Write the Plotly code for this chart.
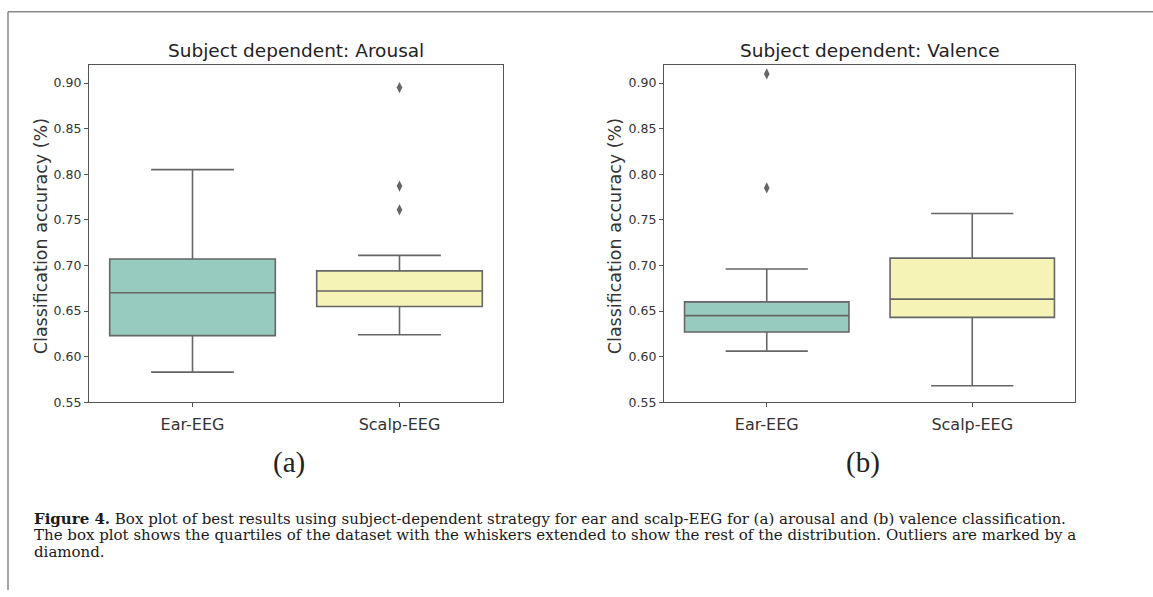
import plotly.graph_objects as go

W, H = 1153, 597

categories = ["Ear-EEG", "Scalp-EEG"]

# Panel (a): Arousal
a_q1 = [0.623, 0.655]
a_median = [0.670, 0.672]
a_q3 = [0.707, 0.694]
a_low = [0.583, 0.624]
a_high = [0.805, 0.711]
a_out_x = ["Scalp-EEG", "Scalp-EEG", "Scalp-EEG"]
a_out_y = [0.895, 0.787, 0.761]

# Panel (b): Valence
b_q1 = [0.627, 0.643]
b_median = [0.645, 0.663]
b_q3 = [0.660, 0.708]
b_low = [0.606, 0.568]
b_high = [0.696, 0.757]
b_out_x = ["Ear-EEG", "Ear-EEG"]
b_out_y = [0.910, 0.785]

colors = ["#97cbbf", "#f5f3b5"]
yticks = [0.55, 0.60, 0.65, 0.70, 0.75, 0.80, 0.85, 0.90]

LINE = "#666666"

fig = go.Figure()

def add_panel(xa, ya, q1, med, q3, lo, hi, ox, oy):
    for i, c in enumerate(categories):
        fig.add_trace(go.Box(
            x=[c], q1=[q1[i]], median=[med[i]], q3=[q3[i]],
            lowerfence=[lo[i]], upperfence=[hi[i]],
            boxpoints=False, fillcolor=colors[i],
            line=dict(color=LINE, width=1.6),
            width=0.8, whiskerwidth=0.5,
            xaxis=xa, yaxis=ya, showlegend=False, hoverinfo="skip"))
    fig.add_trace(go.Scatter(
        x=ox, y=oy, mode="markers",
        marker=dict(symbol="diamond-tall", size=8, color=LINE),
        xaxis=xa, yaxis=ya, showlegend=False, hoverinfo="skip"))

add_panel("x", "y", a_q1, a_median, a_q3, a_low, a_high, a_out_x, a_out_y)
add_panel("x2", "y2", b_q1, b_median, b_q3, b_low, b_high, b_out_x, b_out_y)

ydom = [1 - 407 / H, 1 - 66 / H]
xdom_a = [89 / W, 503 / W]
xdom_b = [664 / W, 1075 / W]

axis_common_x = dict(
    type="category", categoryorder="array", categoryarray=categories,
    range=[-0.5, 1.5], showline=True, linecolor="#555555", linewidth=1.3,
    mirror=True, ticks="outside", ticklen=4, tickcolor="#555555",
    ticklabelstandoff=3,
    tickfont=dict(family="DejaVu Sans", size=16, color="#333333"),
    showgrid=False, zeroline=False, fixedrange=True)
axis_common_y = dict(
    range=[0.55, 0.9195], showline=True, linecolor="#555555", linewidth=1.3,
    mirror=True, ticks="outside", ticklen=4, tickcolor="#555555",
    tickvals=yticks, ticktext=[f"{v:.2f}" for v in yticks],
    tickfont=dict(family="DejaVu Sans", size=12.5, color="#333333"),
    showgrid=False, zeroline=False, fixedrange=True)

fig.update_layout(
    width=W, height=H,
    margin=dict(l=0, r=0, t=0, b=0),
    paper_bgcolor="white", plot_bgcolor="white",
    xaxis=dict(domain=xdom_a, anchor="y", **axis_common_x),
    yaxis=dict(domain=ydom, anchor="x", **axis_common_y),
    xaxis2=dict(domain=xdom_b, anchor="y2", **axis_common_x),
    yaxis2=dict(domain=ydom, anchor="x2", **axis_common_y),
    boxgap=0, boxgroupgap=0,
)

ann = []
# titles
for dom, t in [(xdom_a, "Subject dependent: Arousal"), (xdom_b, "Subject dependent: Valence")]:
    ann.append(dict(x=(dom[0] + dom[1]) / 2, y=1 - 51 / H, xref="paper", yref="paper",
                    text=t, showarrow=False, xanchor="center", yanchor="middle",
                    font=dict(family="DejaVu Sans", size=18.5, color="#222222")))
# y labels
for xp in [41, 615]:
    ann.append(dict(x=xp / W, y=1 - 239 / H, xref="paper", yref="paper",
                    text="Classification accuracy (%)", showarrow=False, textangle=-90,
                    xanchor="center", yanchor="middle",
                    font=dict(family="DejaVu Sans", size=17.5, color="#333333")))
# panel letters
for xp, t in [(289, "(a)"), (863, "(b)")]:
    ann.append(dict(x=xp / W, y=1 - 468 / H, xref="paper", yref="paper",
                    text=t, showarrow=False, xanchor="center", yanchor="middle",
                    font=dict(family="Liberation Serif", size=29, color="#222222")))
# caption
cap = [
    "<b>Figure 4.</b> Box plot of best results using subject-dependent strategy for ear and scalp-EEG for (a) arousal and (b) valence classification.",
    "The box plot shows the quartiles of the dataset with the whiskers extended to show the rest of the distribution. Outliers are marked by a",
    "diamond.",
]
for i, line in enumerate(cap):
    ann.append(dict(x=32 / W, y=1 - (525 + 16.7 * i) / H, xref="paper", yref="paper",
                    text=line, showarrow=False, xanchor="left", yanchor="middle",
                    font=dict(family="DejaVu Serif", size=15, color="#1a1a1a")))
fig.update_layout(annotations=ann)

# figure frame (left and top edges)
fig.update_layout(shapes=[
    dict(type="line", xref="paper", yref="paper", x0=8 / W, x1=8 / W, y0=0, y1=1 - 12 / H,
         line=dict(color="#888888", width=1.5)),
    dict(type="line", xref="paper", yref="paper", x0=8 / W, x1=1, y0=1 - 12 / H, y1=1 - 12 / H,
         line=dict(color="#888888", width=1.5)),
])

fig.write_html("out.html")
